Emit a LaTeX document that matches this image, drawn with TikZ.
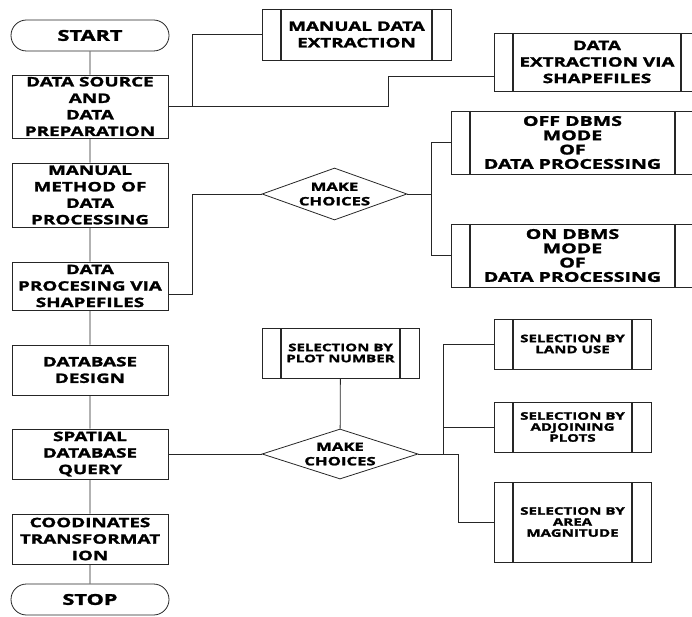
\documentclass[tikz,border=0pt]{standalone}
\usepackage{fontspec}
\newfontfamily\chartfont{Open Sans}[FakeStretch=1.45, BoldFeatures={FakeBold=1.8}]
\usetikzlibrary{shapes.geometric,shapes.misc,calc}
\tikzset{
  box/.style={draw=black!85, rectangle, align=center, font=\chartfont\bfseries\fontsize{13}{16.5}\selectfont, minimum width=156pt, inner sep=0pt, line width=0.8pt},
  term/.style={draw=black!85, rounded rectangle, align=center, font=\chartfont\bfseries\fontsize{15}{16}\selectfont, minimum width=158pt, minimum height=31pt, inner sep=0pt, line width=0.8pt},
  pbox/.style={box, path picture={\draw[black!85, line width=1.4pt]
      ([xshift=19pt]path picture bounding box.north west) -- ([xshift=19pt]path picture bounding box.south west)
      ([xshift=-19pt]path picture bounding box.north east) -- ([xshift=-19pt]path picture bounding box.south east);}},
  mid/.style={font=\chartfont\bfseries\fontsize{13.5}{14.3}\selectfont},
  small/.style={font=\chartfont\bfseries\fontsize{10.4}{11}\selectfont},
  choice/.style={draw=black!85, diamond, aspect=2.8, align=center, font=\chartfont\bfseries\fontsize{11.5}{14.5}\selectfont, inner sep=0pt, line width=0.8pt},
  link/.style={draw=black!85, line width=0.8pt},
}
\begin{document}
\begin{tikzpicture}[x=1pt, y=-1pt]
\clip (0,0) rectangle (692,617);
% main column
\node[term] (start) at (90,35.5) {START};
\node[box, minimum height=63pt] (src) at (90,106.5) {DATA SOURCE\\AND\\DATA\\PREPARATION};
\node[box, minimum height=64pt] (mmd) at (90,195) {MANUAL\\METHOD OF\\DATA\\PROCESSING};
\node[box, minimum height=48pt] (dps) at (90,286) {DATA\\PROCESING VIA\\SHAPEFILES};
\node[box, minimum height=50pt] (dbd) at (90,370) {DATABASE\\DESIGN};
\node[box, minimum height=50pt] (sdq) at (90,454) {SPATIAL\\DATABASE\\QUERY};
\node[box, minimum height=50pt] (crt) at (90,539) {COODINATES\\TRANSFORMAT\\ION};
\node[term] (stop) at (90,599.5) {STOP};
% extraction
\node[pbox, minimum width=189pt, minimum height=51pt] (mde) at (356.5,34.5) {MANUAL DATA\\EXTRACTION};
\node[pbox, minimum width=206pt, minimum height=58pt] (dev) at (597,62) {DATA\\EXTRACTION VIA\\SHAPEFILES};
% processing modes
\node[choice, minimum width=145pt, minimum height=52pt] (ch1) at (334.5,194) {MAKE\\CHOICES};
\node[pbox, mid, minimum width=243pt, minimum height=63pt] (off) at (572.5,142.5) {OFF DBMS\\MODE\\OF\\DATA PROCESSING};
\node[pbox, mid, minimum width=243pt, minimum height=63pt] (on) at (572.5,255.5) {ON DBMS\\MODE\\OF\\DATA PROCESSING};
% query options
\node[choice, minimum width=156pt, minimum height=50pt] (ch2) at (340,454) {MAKE\\CHOICES};
\node[pbox, small, minimum width=157pt, minimum height=50pt] (plot) at (340.5,353) {SELECTION BY\\PLOT NUMBER};
\node[pbox, small, minimum width=157pt, minimum height=50pt] (land) at (572.5,344) {SELECTION BY\\LAND USE};
\node[pbox, small, minimum width=157pt, minimum height=50pt] (adj) at (572.5,427) {SELECTION BY\\ADJOINING\\PLOTS};
\node[pbox, small, minimum width=157pt, minimum height=80pt] (area) at (572.5,522) {SELECTION BY\\AREA\\MAGNITUDE};
\coordinate (j1) at (192,106.5);
\coordinate (j2) at (388,106.5);
\coordinate (j3) at (431,194);
\coordinate (j4) at (443,454);
\draw[link] (start) -- (src) -- (mmd) -- (dps) -- (dbd) -- (sdq) -- (crt) -- (stop);
\draw[link] (src.east) -- (j1) |- (mde.west);
\draw[link] (j1) -- (j2) |- ($(dev.west)+(0,14)$);
\draw[link] ([yshift=-8pt]dps.east) -- ++(24,0) |- (ch1.west);
\draw[link] (ch1.east) -- (j3);
\draw[link] (j3) |- (off.west);
\draw[link] (j3) |- (on.west);
\draw[link] (sdq.east) -- (ch2.west);
\draw[link] (plot) -- (ch2);
\draw[link] (ch2.east) -- (j4);
\draw[link] (j4) |- (land.west);
\draw[link] (j4) |- (adj.west);
\draw[link] (j4) -- ++(15,0) |- (area.west);
\end{tikzpicture}
\end{document}
